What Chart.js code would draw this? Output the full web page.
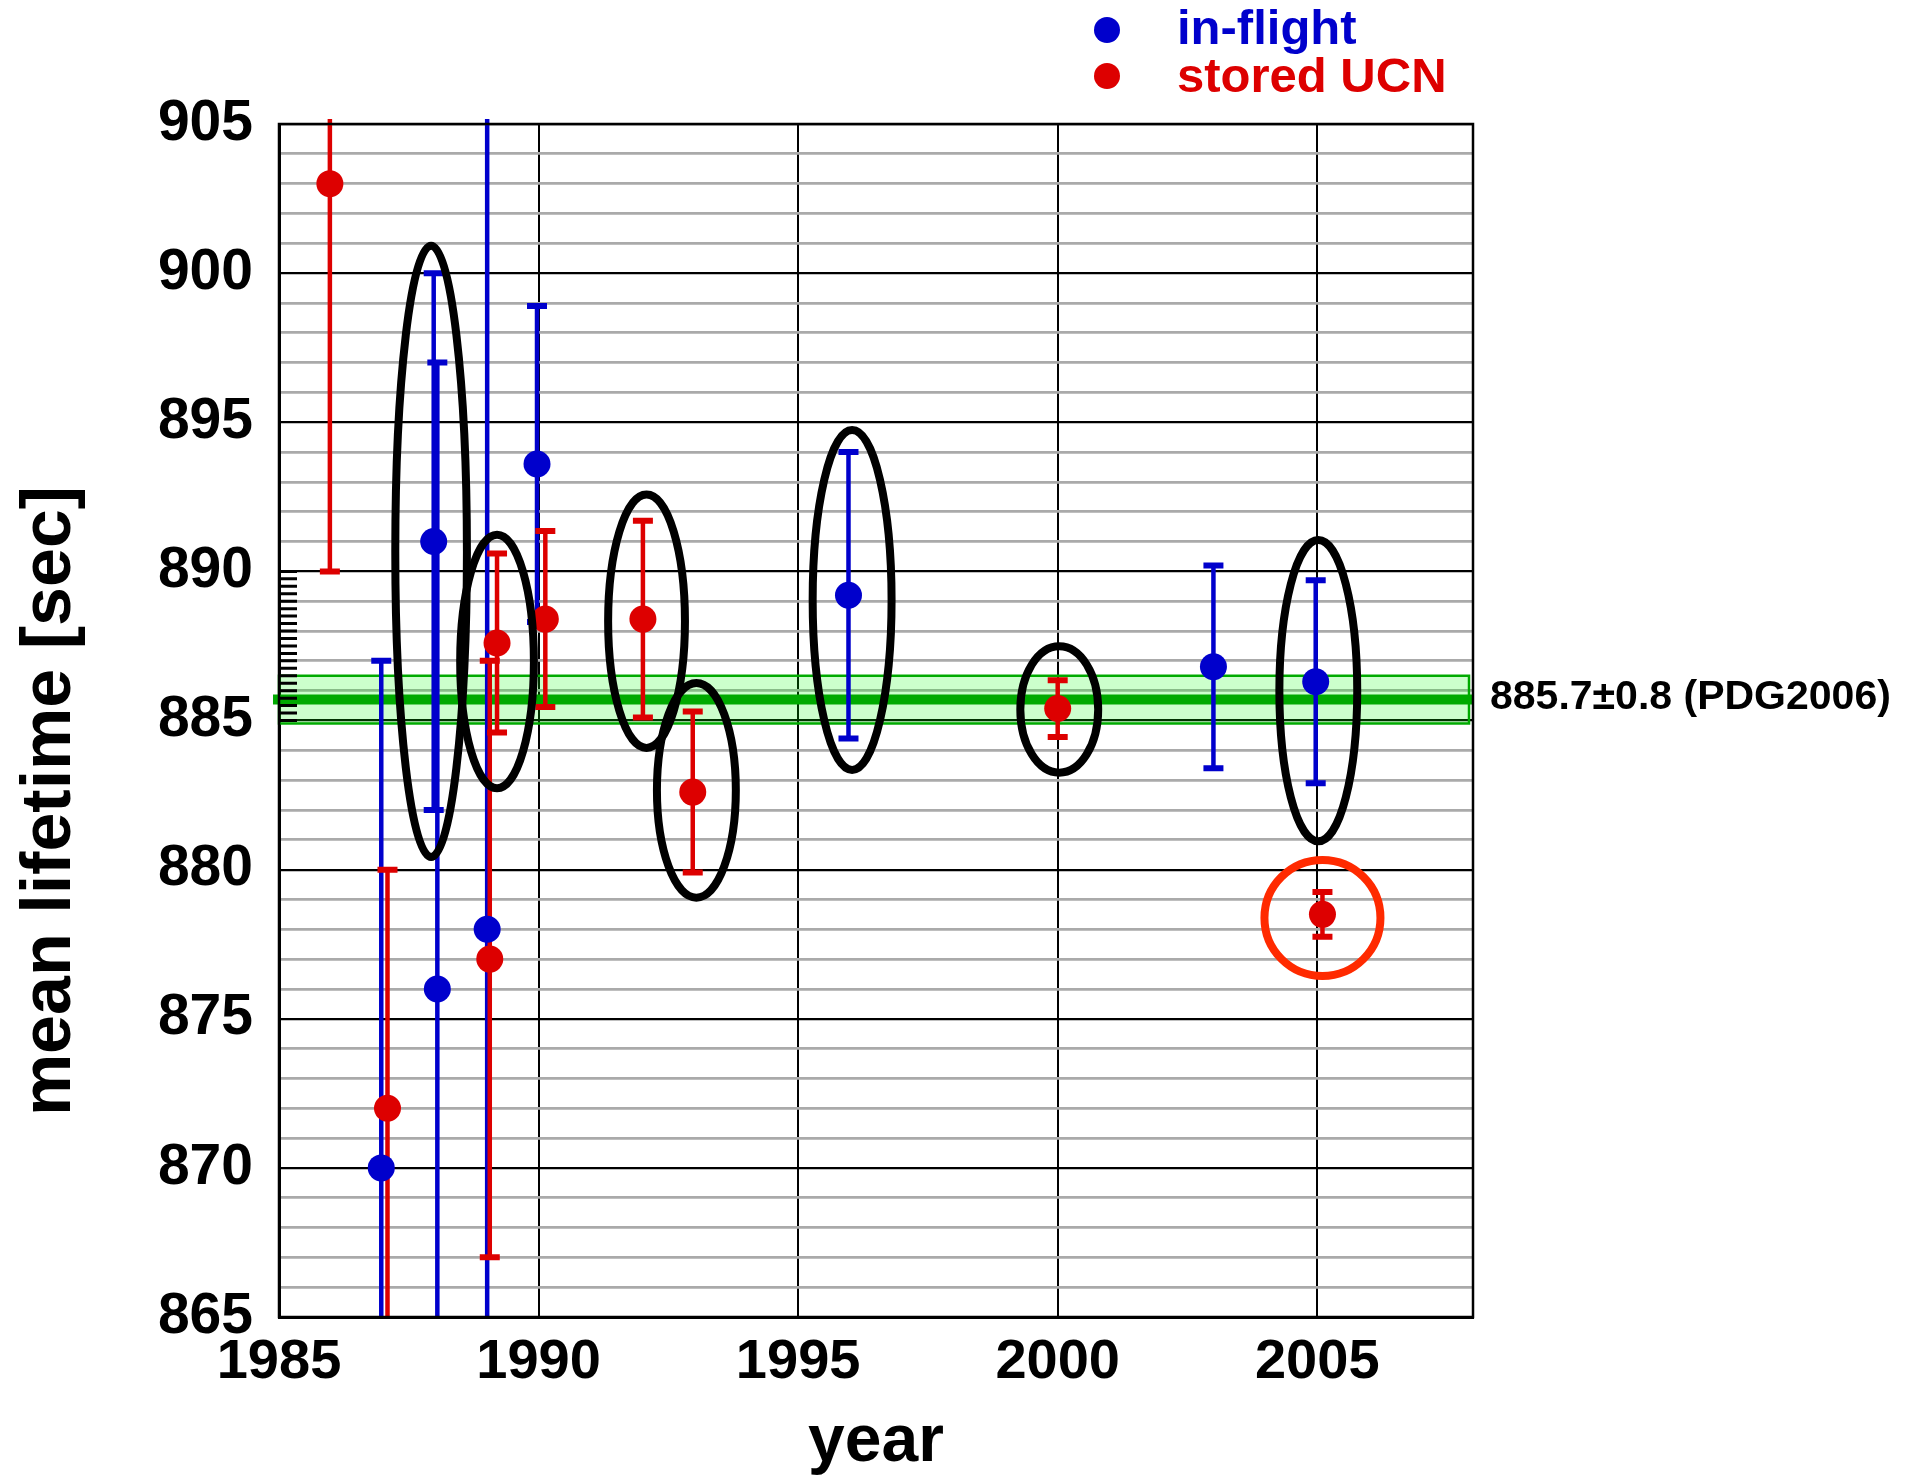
<!DOCTYPE html>
<html>
<head>
<meta charset="utf-8">
<script src="https://cdn.jsdelivr.net/npm/chart.js@4.4.1/dist/chart.umd.min.js"></script>
<style>
  html, body { margin: 0; padding: 0; background: #fff; }
</style>
</head>
<body>
<canvas id="lifetime-chart" width="1907" height="1482"></canvas>
<script>
// in-flight (beam) measurements
const inflightYears = [1986.97, 1987.98, 1988.05, 1989.01, 1989.97, 1995.97, 2003.0, 2004.97];
const inflightValues = [870.0, 891.0, 876.0, 878.0, 893.6, 889.2, 886.8, 886.3];
const inflightErrors = [17.0, 9.0, 21.0, 30.0, 5.3, 4.8, 3.4, 3.4];

// stored UCN measurements
const storedYears = [1985.98, 1987.09, 1989.06, 1989.2, 1990.13, 1992.01, 1992.97, 2000.0, 2005.1];
const storedValues = [903.0, 872.0, 877.0, 887.6, 888.4, 888.4, 882.6, 885.4, 878.5];
const storedErrors = [13.0, 8.0, 10.0, 3.0, 2.95, 3.3, 2.7, 0.95, 0.75];

// PDG 2006 average
const pdgValue = 885.7;
const pdgError = 0.8;
const pdgLabel = '885.7\u00b10.8 (PDG2006)';

// black ellipses drawn round some points (centre, half width in years, half height in sec)
const ellipseYears = [1987.93, 1989.2, 1992.08, 1993.04, 1996.04, 2000.03, 2005.02];
const ellipseCenters = [890.67, 886.98, 888.33, 882.66, 889.04, 885.37, 886.0];
const ellipseHalfYears = [0.69, 0.71, 0.74, 0.76, 0.76, 0.75, 0.75];
const ellipseHalfValues = [10.25, 4.25, 4.25, 3.6, 5.7, 2.12, 5.05];

// red circle round the 2005 stored point
const circleYear = 2005.1;
const circleValue = 878.38;

const xTickLabels = [1985, 1990, 1995, 2000, 2005];
const yTickLabels = [865, 870, 875, 880, 885, 890, 895, 900, 905];

const BLUE = '#0000cc';
const RED = '#dd0000';
const FONT = '"Liberation Sans", Arial, Helvetica, sans-serif';

function drawErrorBars(ctx, x, y, years, values, errors, color) {
    ctx.strokeStyle = color;
    for (let i = 0; i < years.length; i++) {
        let px = x.getPixelForValue(years[i]);
        let top = y.getPixelForValue(values[i] + errors[i]);
        let bot = y.getPixelForValue(values[i] - errors[i]);
        ctx.lineWidth = 4.5;
        ctx.beginPath();
        ctx.moveTo(px, top);
        ctx.lineTo(px, bot);
        ctx.stroke();
        ctx.lineWidth = 6;
        ctx.beginPath();
        ctx.moveTo(px - 10, top);
        ctx.lineTo(px + 10, top);
        ctx.moveTo(px - 10, bot);
        ctx.lineTo(px + 10, bot);
        ctx.stroke();
    }
}

const decorPlugin = {
    id: 'decor',
    beforeDatasetsDraw(chart) {
        const {ctx, chartArea: a, scales: {x, y}} = chart;
        ctx.save();

        // PDG band
        let bandTop = y.getPixelForValue(pdgValue + pdgError);
        let bandBot = y.getPixelForValue(pdgValue - pdgError);
        ctx.fillStyle = 'rgba(0, 255, 0, 0.2)';
        ctx.fillRect(a.left, bandTop, a.right - a.left - 4, bandBot - bandTop);
        ctx.strokeStyle = '#00aa00';
        ctx.lineWidth = 2.5;
        ctx.strokeRect(a.left, bandTop, a.right - a.left - 4, bandBot - bandTop);
        ctx.lineWidth = 10;
        ctx.beginPath();
        ctx.moveTo(a.left - 6, y.getPixelForValue(pdgValue));
        ctx.lineTo(a.right, y.getPixelForValue(pdgValue));
        ctx.stroke();

        // little dashes on the left edge between 885 and 890
        ctx.strokeStyle = '#000';
        ctx.lineWidth = 3;
        ctx.beginPath();
        for (let v = 885; v <= 890.001; v += 0.25) {
            let py = y.getPixelForValue(v);
            ctx.moveTo(a.left, py);
            ctx.lineTo(a.left + 18, py);
        }
        ctx.stroke();

        // error bars
        ctx.beginPath();
        ctx.rect(a.left, a.top - 5, a.right - a.left, a.bottom - a.top + 5);
        ctx.clip();
        drawErrorBars(ctx, x, y, inflightYears, inflightValues, inflightErrors, BLUE);
        drawErrorBars(ctx, x, y, storedYears, storedValues, storedErrors, RED);
        ctx.restore();
    },
    afterDatasetsDraw(chart) {
        const {ctx, chartArea: a, scales: {x, y}} = chart;
        ctx.save();

        // ellipses
        ctx.strokeStyle = '#000';
        ctx.lineWidth = 8;
        for (let i = 0; i < ellipseYears.length; i++) {
            let cx = x.getPixelForValue(ellipseYears[i]);
            let cy = y.getPixelForValue(ellipseCenters[i]);
            let rx = x.getPixelForValue(ellipseYears[i] + ellipseHalfYears[i]) - cx;
            let ry = cy - y.getPixelForValue(ellipseCenters[i] + ellipseHalfValues[i]);
            ctx.beginPath();
            ctx.ellipse(cx, cy, rx, ry, 0, 0, 2 * Math.PI);
            ctx.stroke();
        }

        // red circle
        ctx.strokeStyle = '#ff2a00';
        ctx.beginPath();
        ctx.arc(x.getPixelForValue(circleYear), y.getPixelForValue(circleValue), 58, 0, 2 * Math.PI);
        ctx.stroke();

        // frame
        ctx.strokeStyle = '#000';
        ctx.lineWidth = 2.5;
        ctx.strokeRect(a.left, a.top, a.right - a.left, a.bottom - a.top);

        // PDG label
        ctx.fillStyle = '#000';
        ctx.font = 'bold 41px ' + FONT;
        ctx.textAlign = 'left';
        ctx.textBaseline = 'alphabetic';
        ctx.fillText(pdgLabel, 1490, 709);

        // y axis title
        ctx.font = 'bold 70px ' + FONT;
        ctx.textAlign = 'center';
        ctx.textBaseline = 'middle';
        ctx.translate(51, 801);
        ctx.rotate(-Math.PI / 2);
        ctx.fillText('mean lifetime [sec]', 0, 0);
        ctx.restore();

        // legend
        ctx.save();
        ctx.font = 'bold 49px ' + FONT;
        ctx.textAlign = 'left';
        ctx.textBaseline = 'alphabetic';
        const legendItems = [['in-flight', BLUE, 30, 44], ['stored UCN', RED, 76, 92]];
        legendItems.forEach(([label, color, dotY, textY]) => {
            ctx.fillStyle = color;
            ctx.beginPath();
            ctx.arc(1107, dotY, 13, 0, 2 * Math.PI);
            ctx.fill();
            ctx.fillText(label, 1177, textY);
        });
        ctx.restore();
    }
};

function makePoints(years, values) {
    let pts = [];
    for (let i = 0; i < years.length; i++) {
        pts.push({x: years[i], y: values[i]});
    }
    return pts;
}

const data = {
    datasets: [
        {
            label: 'in-flight',
            data: makePoints(inflightYears, inflightValues),
            backgroundColor: BLUE,
            borderWidth: 0,
            pointRadius: 13.5,
        },
        {
            label: 'stored UCN',
            data: makePoints(storedYears, storedValues),
            backgroundColor: RED,
            borderWidth: 0,
            pointRadius: 13.5,
        },
    ]
};

const config = {
    type: 'scatter',
    data: data,
    plugins: [decorPlugin],
    options: {
        responsive: false,
        animation: false,
        devicePixelRatio: 1,
        layout: { padding: { top: 124, right: 434, left: 0, bottom: 0 } },
        plugins: {
            legend: { display: false },
            tooltip: { enabled: false },
        },
        scales: {
            x: {
                type: 'linear',
                min: 1985,
                max: 2008,
                afterBuildTicks: (s) => { s.ticks = xTickLabels.map(v => ({value: v})); },
                afterFit: (s) => { s.height = 165; },
                ticks: {
                    callback: (v) => String(v),
                    font: { family: FONT, size: 56, weight: 'bold' },
                    color: '#000',
                    padding: 12,
                    maxRotation: 0,
                },
                grid: { color: '#000', lineWidth: 2, drawTicks: false },
                border: { color: '#000', width: 3 },
                title: {
                    display: true,
                    text: 'year',
                    font: { family: FONT, size: 66, weight: 'bold' },
                    color: '#000',
                    padding: { top: 0, bottom: 0 },
                },
            },
            y: {
                min: 865,
                max: 905,
                afterBuildTicks: (s) => {
                    let t = [];
                    for (let v = 865; v <= 905; v++) t.push({value: v});
                    s.ticks = t;
                },
                afterFit: (s) => { s.width = 279; },
                ticks: {
                    callback: (v) => yTickLabels.includes(v) ? String(v) : '',
                    font: { family: FONT, size: 57, weight: 'bold' },
                    color: '#000',
                    padding: 26,
                    autoSkip: false,
                },
                grid: {
                    color: (c) => (c.tick && c.tick.value % 5 === 0) ? '#000' : '#aaaaaa',
                    lineWidth: (c) => (c.tick && c.tick.value % 5 === 0) ? 2.2 : 2.7,
                    drawTicks: false,
                },
                border: { color: '#000', width: 3 },
            },
        },
    },
};

const ctx = document.getElementById('lifetime-chart').getContext('2d');
window.lifetimeChart = new Chart(ctx, config);
</script>
</body>
</html>
